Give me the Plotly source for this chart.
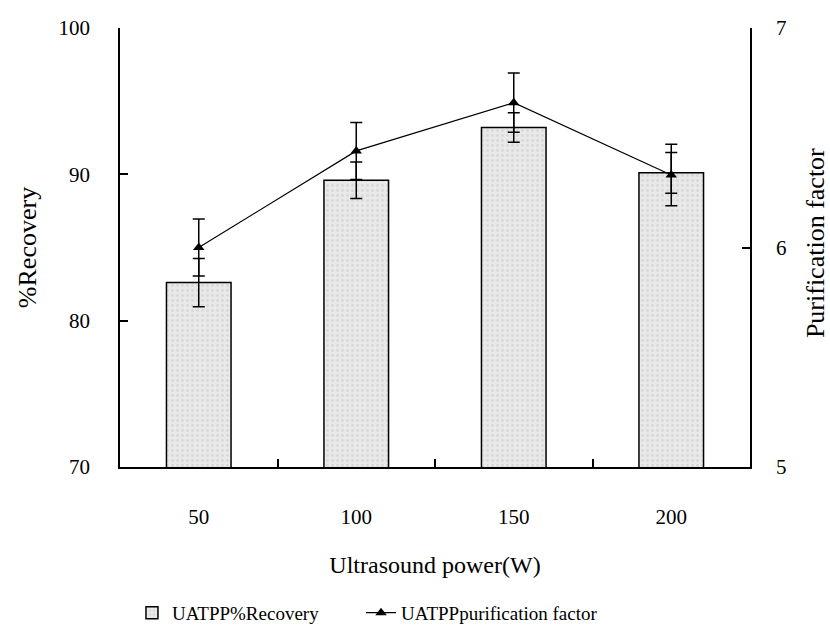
import plotly.graph_objects as go

powers = ["50", "100", "150", "200"]
recovery = [82.6, 89.6, 93.2, 90.1]
recovery_err = [1.65, 1.25, 1.0, 1.4]
purification = [6.00, 6.44, 6.66, 6.33]
purification_err = [0.13, 0.13, 0.135, 0.14]

font_family = "'Liberation Serif', Tinos, 'Times New Roman', 'DejaVu Serif', serif"

fig = go.Figure()
fig.add_trace(go.Bar(
    x=powers, y=recovery, name="UATPP%Recovery",
    width=0.41,
    marker=dict(color="#e9e9e9", line=dict(color="black", width=1.5),
                pattern=dict(shape=".", fgcolor="#c8c8c8", size=5, solidity=0.25)),
    error_y=dict(type="data", array=recovery_err, color="black", thickness=1.5, width=6),
    yaxis="y", legend="legend",
))
fig.add_trace(go.Scatter(
    x=powers, y=purification, name="UATPPpurification factor",
    mode="lines+markers",
    line=dict(color="black", width=1.2),
    marker=dict(symbol="triangle-up", size=10, color="black"),
    error_y=dict(type="data", array=purification_err, color="black", thickness=1.5, width=6),
    yaxis="y2", legend="legend2",
))

legend_common = dict(orientation="h", xref="container", yref="container",
                     y=0.005, yanchor="bottom", font=dict(size=19),
                     xanchor="left", bgcolor="rgba(0,0,0,0)")

fig.update_layout(
    width=830, height=635,
    margin=dict(l=120, r=80, t=28, b=168),
    paper_bgcolor="white", plot_bgcolor="white",
    font=dict(family=font_family, size=21, color="black"),
    showlegend=True,
    legend=dict(x=0.159, **legend_common),
    legend2=dict(x=0.435, **legend_common),
    xaxis=dict(
        type="category", categoryorder="array", categoryarray=powers,
        showline=True, linecolor="black", linewidth=1.5,
        ticks="inside", ticklen=8, tickcolor="black", tickwidth=1.5,
        tickson="boundaries", showgrid=False,
        ticklabelstandoff=30,
        title=dict(text="Ultrasound power(W)", font=dict(size=24), standoff=28),
    ),
    yaxis=dict(
        range=[70, 100], tickvals=[70, 80, 90, 100],
        showline=True, linecolor="black", linewidth=1.5,
        ticks="inside", ticklen=8, tickcolor="black", tickwidth=1.5,
        showgrid=False, zeroline=False,
        ticklabelstandoff=24,
        title=dict(text="%Recovery", font=dict(size=26), standoff=14),
    ),
    yaxis2=dict(
        range=[5, 7], tickvals=[5, 6, 7], overlaying="y", side="right",
        showline=True, linecolor="black", linewidth=1.5,
        ticks="inside", ticklen=8, tickcolor="black", tickwidth=1.5,
        showgrid=False, zeroline=False,
        ticklabelstandoff=20,
    ),
    annotations=[dict(
        text="Purification factor", textangle=-90,
        xref="paper", yref="paper", x=1.0, y=0.51,
        xanchor="center", yanchor="middle", xshift=65,
        showarrow=False, font=dict(size=26),
    )],
)

fig.write_html("out.html")
